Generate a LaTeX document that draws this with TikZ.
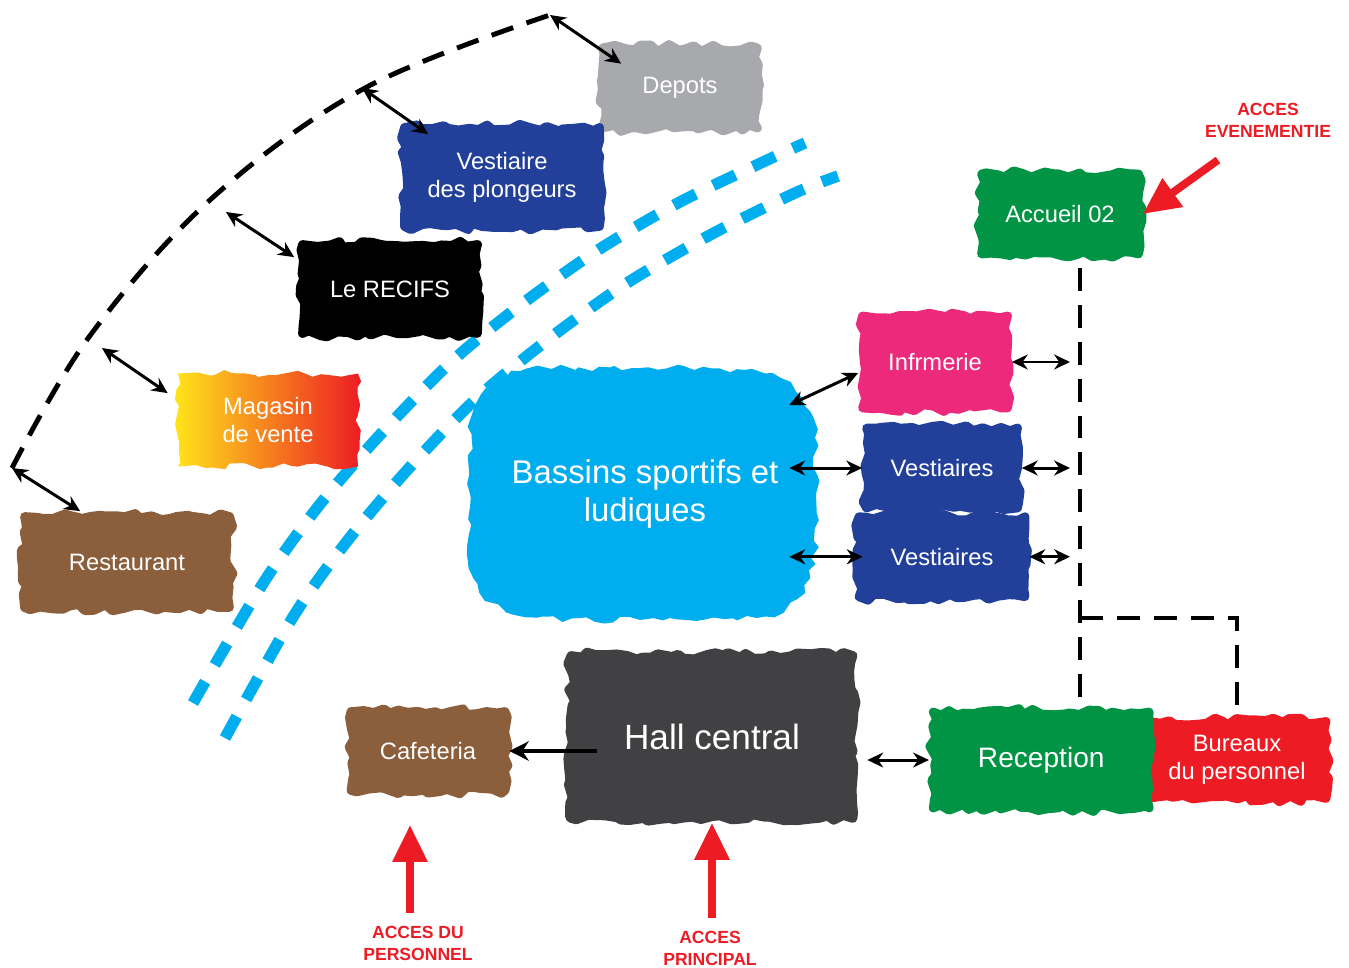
\documentclass[tikz,border=0pt]{standalone}
\usepackage{fontspec}
\setmainfont{Liberation Sans}
\usetikzlibrary{arrows.meta,positioning,calc,decorations.pathmorphing}

\definecolor{depgray}{HTML}{A7A9AC}
\definecolor{navy}{HTML}{22409A}
\definecolor{poolblue}{HTML}{00AEEF}
\definecolor{rosepink}{HTML}{EC297B}
\definecolor{leafgreen}{HTML}{009444}
\definecolor{charcoal}{HTML}{414042}
\definecolor{woodbrown}{HTML}{8B5E3C}
\definecolor{accred}{HTML}{ED1C24}
\definecolor{sunyellow}{HTML}{FFE419}
\definecolor{sunorange}{HTML}{F7A12D}

\begin{document}
\pgfmathsetseed{7}
\begin{tikzpicture}[x=0.02cm, y=-0.02cm,
  scribble/.style={decorate, decoration={random steps, segment length=5pt, amplitude=2pt}},
  room/.style={scribble, text=white, align=center, inner sep=0pt,
    line width=5pt, line join=round, font=\fontsize{13.5}{16}\selectfont},
  paint/.style={fill=#1, draw=#1},
  link/.style={{Stealth[length=9pt,width=8.5pt]}-{Stealth[length=9pt,width=8.5pt]}, line width=1.7pt},
  walk/.style={dash pattern=on 13pt off 8pt, line width=2.8pt},
  water/.style={draw=poolblue, line width=6.5pt, dash pattern=on 14pt off 11pt},
  access/.style={draw=accred, line width=4.5pt, -{Triangle[length=21pt,width=19pt]}},
  accesslbl/.style={text=accred, font=\bfseries\fontsize{10}{12.5}\selectfont, align=center}]
  \useasboundingbox (0,0) rectangle (1349,967);

  % circulation lines
  \draw[water] plot[smooth] coordinates {(193,703) (262,585) (317,508) (378,437) (450,363) (518,307) (595,252) (678,203) (763,162) (805,143)};
  \draw[water] plot[smooth] coordinates {(225,738) (293,617) (348,540) (410,467) (477,398) (550,338) (627,283) (710,235) (795,193) (838,176)};
  \draw[walk] plot[smooth, tension=0.6] coordinates {(12,468) (89,337) (210,200) (365,88) (550,15)};

  % pool blob
  \fill[poolblue, scribble] plot[smooth cycle, tension=0.5] coordinates {(520,372) (640,368) (765,374) (810,412) (816,494) (810,578) (765,616) (640,620) (520,616) (474,578) (470,494) (474,412)};

  % rooms
  \node[room, paint=depgray, minimum width=3.1cm, minimum height=1.6cm] (dep) at (680,88) {Depots};
  \node[room, paint=navy, minimum width=3.9cm, minimum height=1.98cm] (plong) at (502,177) {Vestiaire\\des plongeurs};
  \node[room, paint=black, minimum width=3.5cm, minimum height=1.78cm] (recif) at (390,289) {Le RECIFS};
  \node[room, left color=sunyellow, middle color=sunorange, right color=accred, minimum width=3.6cm, minimum height=1.86cm] (mag) at (268,420) {Magasin\\de vente};
  \node[room, paint=woodbrown, minimum width=4.1cm, minimum height=1.82cm] (resto) at (127,562) {Restaurant};
  \node[room, minimum width=7cm, minimum height=5.04cm,
    font=\fontsize{18.7}{21.6}\selectfont] (bassin) at (645,494) {Bassins sportifs et\\ludiques};
  \node[room, paint=rosepink, minimum width=2.9cm, minimum height=1.84cm] (infirm) at (935,362) {Infrmerie};
  \node[room, paint=navy, minimum width=3.02cm, minimum height=1.6cm] (vest1) at (942,468) {Vestiaires};
  \node[room, paint=navy, minimum width=3.32cm, minimum height=1.6cm, below=0cm of vest1] (vest2) {Vestiaires};
  \node[room, paint=leafgreen, minimum width=3.14cm, minimum height=1.6cm] (accueil) at (1060,214) {Accueil 02};
  \node[room, paint=charcoal, minimum width=5.64cm, minimum height=3.26cm,
    font=\fontsize{20}{24}\selectfont] (hall) at (712,737) {Hall central};
  \node[room, paint=woodbrown, minimum width=3.08cm, minimum height=1.58cm] (cafe) at (428,751) {Cafeteria};
  \node[room, paint=accred, minimum width=3.56cm, minimum height=1.54cm] (bureau) at (1237,760) {Bureaux\\du personnel};
  \node[room, paint=leafgreen, minimum width=4.32cm, minimum height=1.92cm, left=-0.2cm of bureau,
    font=\fontsize{16}{19}\selectfont] (recep) {Reception};

  % access labels
  \node[accesslbl] (evt) at (1268,120) {ACCES\\EVENEMENTIE};
  \node[accesslbl] (pers) at (418,943) {ACCES DU\\PERSONNEL};
  \node[accesslbl] (princ) at (710,948) {ACCES\\PRINCIPAL};

  % links to the outer walk
  \coordinate (a-dep) at (550,15);
  \coordinate (a-plo) at (362,88);
  \coordinate (a-rec) at (226,212);
  \coordinate (a-mag) at (102,348);
  \coordinate (a-rest) at (12,468);
  \draw[link] (a-dep) -- ($(dep.north west)+(23,20)$);
  \draw[link] (a-plo) -- ($(plong.north west)+(28,11)$);
  \draw[link] (a-rec) -- ($(recif.north west)+(-4,17)$);
  \draw[link] (a-mag) -- ($(mag.north west)+(-6,24)$);
  \draw[link] (a-rest) -- ($(resto.north west)+(60,-1)$);

  % service corridor
  \coordinate (v-top) at (1080,268);
  \coordinate (v-fork) at (1080,618);
  \draw[walk] (v-top) -- (v-top |- recep.north);
  \draw[walk] (v-fork) -| (bureau.north);
  \draw[link, shorten >=0.2cm] (infirm.east) -- (infirm.east -| v-top);
  \draw[link, shorten >=0.2cm] (vest1.east) -- (vest1.east -| v-top);
  \draw[link, shorten >=0.2cm] (vest2.east) -- (vest2.east -| v-top);

  % pools to rooms
  \coordinate (b-edge) at ($(bassin.east)+(-35,0)$);
  \coordinate (b-inf) at ($(bassin.east)+(-35,-89)$);
  \draw[link] (b-inf) -- ($(infirm.west)+(0,11)$);
  \draw[link] (b-edge |- vest1.west) -- (vest1.west);
  \draw[link] (b-edge |- vest2.west) -- ($(vest2.west)+(8,0)$);

  % hall
  \coordinate (h-out) at ($(hall.west)+(30,0)$);
  \draw[-{Stealth[length=11pt,width=11pt]}, line width=2.6pt] (h-out |- cafe.east) -- (cafe.east);
  \draw[link, shorten <=0.2cm] (hall.east |- recep.west) -- (recep.west);

  % entrances
  \coordinate (evt-tail) at (1218,160);
  \coordinate (staff-in) at (410,825);
  \draw[access] (evt-tail) -- (accueil.east);
  \draw[access, shorten <=4pt] (staff-in |- pers.north) -- (staff-in);
  \draw[access, shorten <=4pt] (hall.south |- princ.north) -- (hall.south);
\end{tikzpicture}
\end{document}
